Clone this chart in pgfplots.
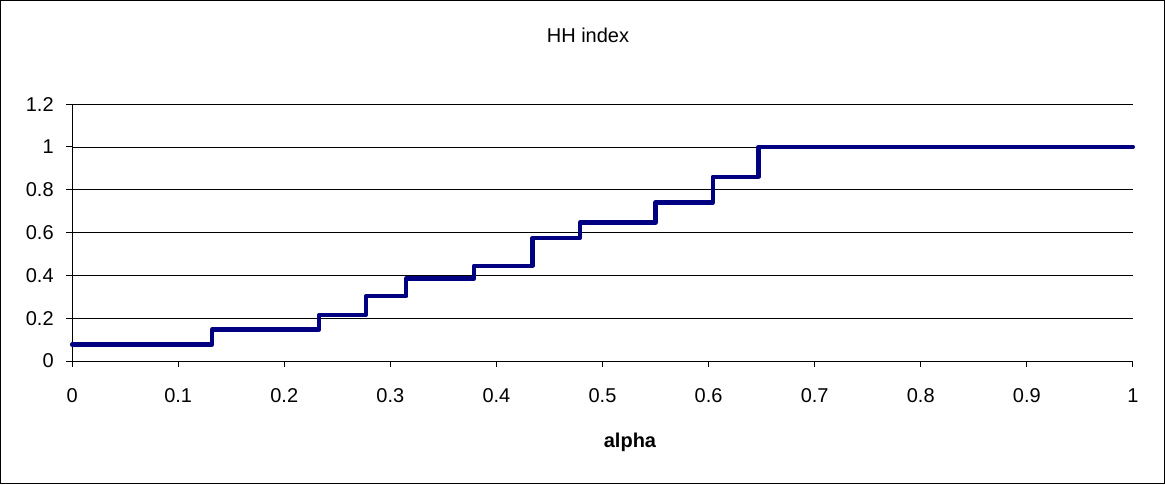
\documentclass[border=0pt]{standalone}
\usepackage{pgfplots}
\pgfplotsset{compat=1.18}
\usepackage{fontspec}
\setmainfont{Liberation Sans}
\definecolor{navyline}{RGB}{0,0,128}
\begin{document}
\begin{tikzpicture}[x=0.75pt,y=0.75pt]
\draw[line width=0.75pt, black] (-71.6,-122.6) rectangle (1092.6,360.6);
\begin{axis}[
  at={(0,0)}, anchor=origin,
  scale only axis,
  width=795.75pt, height=192.75pt,
  xmin=0, xmax=1, ymin=0, ymax=1.2,
  xtick={0,0.1,...,1.0},
  ytick={0,0.2,...,1.2},
  xticklabels={0,0.1,0.2,0.3,0.4,0.5,0.6,0.7,0.8,0.9,1},
  yticklabels={0,0.2,0.4,0.6,0.8,1,1.2},
  axis x line=bottom, axis y line=left,
  axis line style={-, black, line width=0.75pt},
  tick align=outside, tick style={black, line width=0.75pt},
  major tick length=4.3pt,
  ymajorgrids,
  grid style={black, line width=0.6pt},
  tick label style={font=\fontsize{15}{18}\selectfont},
  /pgf/number format/assume math mode=true,
  xticklabel style={anchor=center, yshift=-22pt},
  yticklabel style={anchor=east, xshift=-6pt},
  clip=false,
]
\addplot[const plot, navyline, line width=3.2pt, line join=round, line cap=round] coordinates {
(0,0.077) (0.132,0.147) (0.233,0.216) (0.277,0.303) (0.315,0.386) (0.379,0.445)
(0.434,0.576) (0.479,0.647) (0.550,0.740) (0.604,0.861) (0.647,1.0) (1,1.0)
};
\end{axis}
\node[anchor=base, inner sep=0pt, font=\fontsize{15}{18}\selectfont] at (516,318.4) {HH index};
\node[anchor=base, inner sep=0pt, font=\fontsize{15}{18}\selectfont\bfseries] at (558,-86.6) {alpha};
\end{tikzpicture}
\end{document}
